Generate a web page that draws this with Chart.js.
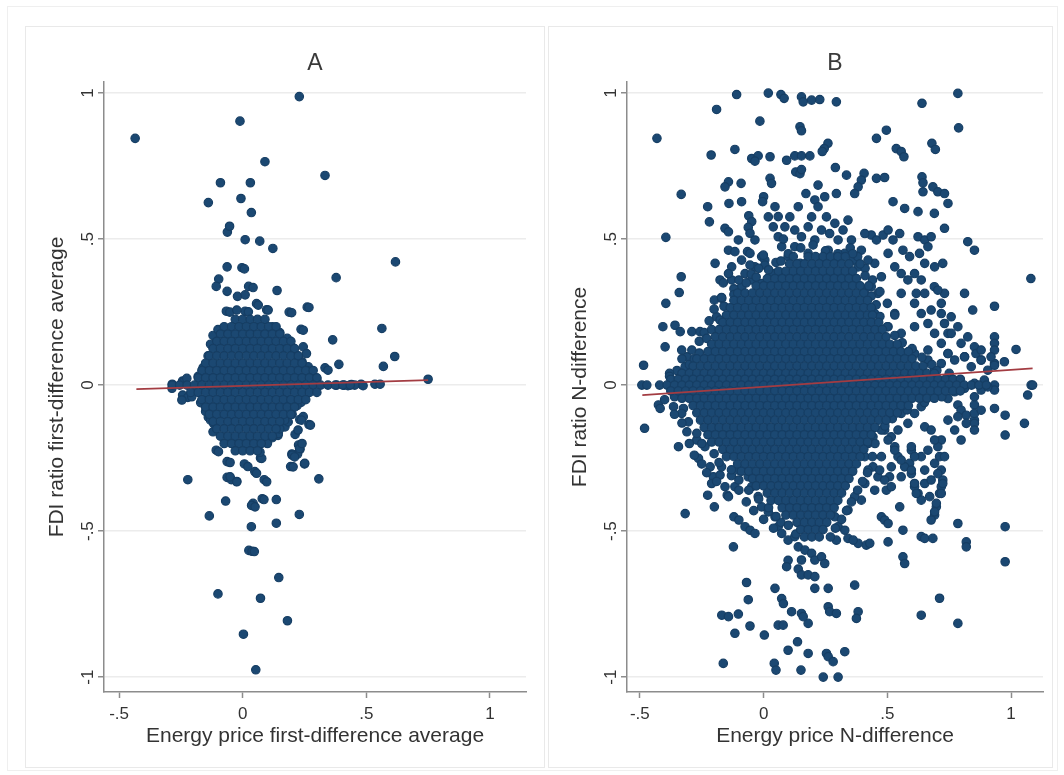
<!DOCTYPE html>
<html lang="en">
<head>
<meta charset="UTF-8">
<title>FDI ratio vs energy price</title>
<script src="https://cdn.jsdelivr.net/npm/chart.js@4.4.1/dist/chart.umd.min.js"></script>
<style>
* { margin: 0; padding: 0; box-sizing: border-box; }
body {
    width: 1064px;
    height: 775px;
    background: #fff;
    position: relative;
    overflow: hidden;
    font-family: "Liberation Sans", Arial, sans-serif;
}
.frame {
    position: absolute;
    left: 7px; top: 6px;
    width: 1051px; height: 765px;
    border: 1px solid #efefef;
}
.panel {
    position: absolute;
    top: 26px;
    height: 742px;
    border: 1px solid #e9e9e9;
}
#panelA { left: 25px; width: 520px; }
#panelB { left: 548px; width: 505px; }
canvas { position: absolute; left: 0; top: 0; }
</style>
</head>
<body>
<div class="frame"></div>
<div class="panel" id="panelA"><canvas id="chartA" width="520" height="741"></canvas></div>
<div class="panel" id="panelB"><canvas id="chartB" width="505" height="741"></canvas></div>
<script>
// axis ticks (Stata style labels)
const xTicks = [-0.5, 0, 0.5, 1];
const xTickLabels = ['-.5', '0', '.5', '1'];
const yTicks = [-1, -0.5, 0, 0.5, 1];
const yTickLabels = ['-1', '-.5', '0', '.5', '1'];

// Panel A: first-difference averages
const scatterA = [
    [-0.435,0.845],[0.229,0.988],[-0.011,0.904],[0.09,0.765],[0.333,0.718],[-0.09,0.693],[0.031,0.693],
    [-0.139,0.625],[-0.007,0.639],[0.035,0.591],[-0.062,0.524],[-0.053,0.544],[0.01,0.498],[0.069,0.493],
    [0.122,0.468],[0.618,0.422],[-0.063,0.405],[-0.003,0.402],[0.007,0.398],[0.378,0.368],[-0.097,0.363],
    [-0.107,0.338],[-0.063,0.321],[-0.021,0.304],[0.024,0.338],[0.042,0.334],[0.139,0.324],[0.01,0.309],
    [0.056,0.279],[-0.066,0.253],[-0.052,0.25],[0.01,0.253],[0.188,0.25],[0.261,0.267],[0.097,0.258],
    [0.563,0.194],[0.236,0.191],[0.364,0.155],[0.615,0.098],[0.569,0.064],[0.389,0.071],[0.333,0.059],
    [0.75,0.02],[0.479,0.003],[0.535,0.003],[0.556,0.003],[0.38,0.0],[0.41,0.0],[0.44,0.002],
    [-0.285,0.003],[-0.243,0.014],[-0.243,-0.034],[-0.222,-0.042],[-0.222,-0.324],[-0.139,-0.11],
    [-0.107,-0.223],[-0.063,-0.262],[-0.063,-0.316],[-0.046,-0.324],[-0.024,-0.33],[-0.069,-0.397],
    [0.007,-0.27],[0.021,-0.279],[0.049,-0.296],[0.087,-0.324],[0.072,-0.25],[0.093,-0.191],[0.194,-0.279],
    [0.25,-0.27],[0.308,-0.321],[0.268,-0.135],[0.226,-0.205],[0.232,-0.22],[0.222,-0.236],[0.199,-0.236],
    [0.231,-0.118],[0.236,-0.059],[0.212,-0.169],[0.143,-0.172],[0.167,-0.127],[0.136,-0.392],[0.079,-0.389],
    [0.042,-0.405],[0.036,-0.412],[-0.135,-0.448],[0.229,-0.443],[0.136,-0.473],[0.035,-0.485],
    [0.025,-0.566],[0.038,-0.569],[0.047,-0.57],[0.146,-0.659],[-0.1,-0.715],[0.072,-0.73],[0.181,-0.807],
    [0.003,-0.853],[0.053,-0.975],
    [-0.098,-0.228],[-0.051,-0.265],[-0.051,-0.314],[-0.024,-0.331],[0.05,-0.417],[0.086,-0.392],
    [0.097,-0.331],[0.056,-0.302],[0.077,-0.251],[0.204,-0.28],[0.251,-0.268],[0.2,-0.24],[0.21,-0.246],
    [0.23,-0.217],[0.24,-0.2],[0.171,-0.143],[0.184,-0.126],[0.144,-0.166],[0.224,-0.154],[0.245,-0.108],
    [0.238,-0.12],[0.274,-0.137],[-0.132,-0.108],[-0.118,-0.131],[0.345,0.051],[0.487,-0.002],[0.453,0.0],
    [0.426,-0.002],[0.245,0.188],[0.198,0.248],[0.268,0.266],[0.245,0.131],[0.258,0.108],[0.265,0.063],
    [-0.239,0.011],[-0.226,0.023],[-0.246,-0.051],[-0.206,-0.04],[-0.286,-0.011],[-0.024,0.257],
    [0.023,0.251],[0.063,0.274],[0.103,0.257],
    [0.12,0.2],[0.15,0.18],[0.18,0.16],[0.2,0.13],[0.22,0.1],[0.24,0.08],[0.26,0.05],[0.28,0.03],[0.3,0.02],
    [0.18,-0.05],[0.22,-0.07],[0.2,-0.1],[0.17,-0.12],[0.15,-0.15],[0.12,-0.18],[0.1,-0.2],[0.07,-0.23],
    [-0.12,-0.16],[-0.13,-0.12],[-0.15,-0.09],[-0.17,-0.06],[-0.18,0.03],[-0.16,0.06],[-0.14,0.1],
    [-0.13,0.14],[-0.12,0.17],[-0.1,0.19]
];
// dense centre of panel A, one row per y level
const coreA = [
    [0.225, [-0.03,0,0.03,0.06,0.09]],
    [0.20, [-0.075,-0.045,-0.015,0.015,0.045,0.075,0.105,0.135]],
    [0.175, [-0.09,-0.06,-0.03,0,0.03,0.06,0.09,0.12,0.15]],
    [0.15, [-0.105,-0.075,-0.045,-0.015,0.015,0.045,0.075,0.105,0.135,0.165,0.195]],
    [0.125, [-0.12,-0.09,-0.06,-0.03,0,0.03,0.06,0.09,0.12,0.15,0.18,0.21]],
    [0.10, [-0.135,-0.105,-0.075,-0.045,-0.015,0.015,0.045,0.075,0.105,0.135,0.165,0.195,0.225]],
    [0.075, [-0.15,-0.12,-0.09,-0.06,-0.03,0,0.03,0.06,0.09,0.12,0.15,0.18,0.21,0.24]],
    [0.05, [-0.165,-0.135,-0.105,-0.075,-0.045,-0.015,0.015,0.045,0.075,0.105,0.135,0.165,0.195,0.225,0.255,0.285]],
    [0.025, [-0.18,-0.15,-0.12,-0.09,-0.06,-0.03,0,0.03,0.06,0.09,0.12,0.15,0.18,0.21,0.24,0.27,0.30]],
    [0.0, [-0.285,-0.255,-0.225,-0.195,-0.165,-0.135,-0.105,-0.075,-0.045,-0.015,0.015,0.045,0.075,0.105,0.135,0.165,0.195,0.225,0.255,0.285,0.315,0.345,0.375,0.405,0.435]],
    [-0.025, [-0.21,-0.18,-0.15,-0.12,-0.09,-0.06,-0.03,0,0.03,0.06,0.09,0.12,0.15,0.18,0.21,0.24,0.27,0.30]],
    [-0.05, [-0.165,-0.135,-0.105,-0.075,-0.045,-0.015,0.015,0.045,0.075,0.105,0.135,0.165,0.195,0.225,0.255]],
    [-0.075, [-0.15,-0.12,-0.09,-0.06,-0.03,0,0.03,0.06,0.09,0.12,0.15,0.18,0.21]],
    [-0.10, [-0.135,-0.105,-0.075,-0.045,-0.015,0.015,0.045,0.075,0.105,0.135,0.165,0.195]],
    [-0.125, [-0.12,-0.09,-0.06,-0.03,0,0.03,0.06,0.09,0.12,0.15]],
    [-0.15, [-0.105,-0.075,-0.045,-0.015,0.015,0.045,0.075,0.105,0.135]],
    [-0.175, [-0.09,-0.06,-0.03,0,0.03,0.06,0.09,0.12]],
    [-0.20, [-0.075,-0.045,-0.015,0.015,0.045,0.075]],
    [-0.225, [-0.03,0,0.03,0.06]]
];
const fitA = [[-0.43, -0.014], [0.75, 0.017]];

// Panel B: N-differences
const scatterB = [
    [-0.109,0.995],[0.019,1.0],[0.07,0.995],[0.083,0.982],[0.153,0.987],[0.16,0.97],[0.194,0.976],
    [0.227,0.978],[0.294,0.97],[0.785,0.999],[-0.19,0.944],[-0.015,0.904],[0.64,0.965],[0.788,0.881],
    [-0.431,0.845],[0.147,0.885],[0.153,0.871],[0.456,0.845],[0.496,0.873],[0.26,0.828],[0.245,0.81],
    [0.237,0.8],[-0.116,0.807],[-0.212,0.788],[-0.048,0.776],[-0.022,0.785],[0.026,0.782],[-0.035,0.767],
    [0.093,0.77],[0.126,0.785],[0.153,0.785],[0.187,0.785],[0.536,0.81],[0.556,0.8],[0.567,0.782],
    [0.68,0.828],[0.694,0.807],[0.13,0.73],[0.147,0.724],[0.153,0.738],[0.29,0.745],[0.335,0.719],
    [0.406,0.725],[0.395,0.702],[0.382,0.679],[0.368,0.656],[0.456,0.708],[0.489,0.711],[0.64,0.713],
    [0.644,0.693],[0.684,0.679],[0.704,0.662],[0.731,0.656],[0.745,0.622],[0.644,0.662],[-0.142,0.696],
    [-0.156,0.679],[-0.091,0.691],[0.026,0.708],[0.032,0.691],[0.22,0.685],[0.171,0.656],[0.247,0.645],
    [0.294,0.656],[-0.333,0.653],[-0.226,0.611],[-0.14,0.622],[-0.089,0.628],[0.0,0.645],[-0.004,0.628],
    [0.046,0.611],[0.059,0.577],[0.14,0.611],[0.207,0.634],[0.22,0.611],[0.523,0.628],[0.57,0.605],
    [0.624,0.594],[0.69,0.588],[0.731,0.537],[-0.219,0.559],[-0.156,0.537],[-0.142,0.525],[-0.06,0.58],
    [-0.048,0.56],[-0.062,0.54],[-0.055,0.52],[-0.395,0.506],[-0.142,0.462],[-0.116,0.457],[-0.065,0.457],
    [-0.008,0.44],[-0.196,0.417],[0.825,0.491],[0.852,0.462],[1.08,0.365],[-0.333,0.371],[-0.341,0.317],
    [-0.395,0.28],[-0.176,0.36],[-0.163,0.35],[-0.199,0.291],[-0.169,0.297],[-0.407,0.2],[-0.358,0.205],
    [-0.337,0.183],[-0.29,0.183],[-0.257,0.183],[-0.398,0.131],[-0.485,0.068],[0.812,0.314],[0.845,0.257],
    [0.933,0.27],[0.933,0.165],[0.933,0.143],[1.02,0.122],[0.973,0.08],[0.933,0.074],[0.758,0.234],
    [0.785,0.2],[0.825,0.165],[0.852,0.131],[0.858,0.108],[0.731,0.211],[0.745,0.177],[0.69,0.337],
    [0.731,0.314],[0.718,0.28],
    [0.435,0.514],[0.456,0.497],[0.483,0.514],[0.503,0.531],[0.523,0.497],[0.55,0.519],[0.563,0.462],
    [0.59,0.44],[0.624,0.508],[0.651,0.497],[0.664,0.474],[0.677,0.508],[0.63,0.451],[0.651,0.417],
    [0.691,0.405],[0.724,0.417],[0.503,0.451],[0.53,0.405],[0.556,0.382],[0.583,0.36],[0.61,0.382],
    [0.637,0.36],[0.617,0.314],[0.651,0.314],[0.704,0.325],[0.556,0.314],[0.476,0.371],[0.449,0.417],
    [0.422,0.428],[0.435,0.337],[0.462,0.314],[0.409,0.325],
    [0.019,0.576],[0.039,0.542],[0.059,0.508],[0.086,0.542],[0.106,0.576],[0.126,0.531],[0.073,0.474],
    [0.099,0.44],[0.126,0.474],[0.153,0.508],[0.18,0.542],[0.194,0.576],[0.207,0.497],[0.234,0.531],
    [0.254,0.576],[0.267,0.519],[0.288,0.554],[0.301,0.497],[0.321,0.531],[0.341,0.565],[0.355,0.497],
    [0.362,0.428],[0.328,0.451],[0.288,0.428],[0.261,0.462],[0.234,0.428],[0.207,0.405],[0.18,0.451],
    [0.147,0.417],[-0.035,0.497],[-0.055,0.451],[-0.089,0.428],[-0.102,0.497],[-0.129,0.405],
    [-0.075,0.382],[-0.035,0.405],[0.005,0.428],[0.039,0.382],[0.073,0.371],[0.126,0.371],[0.167,0.36],
    [0.207,0.36],[0.247,0.371],[0.288,0.382],[0.315,0.365],[0.355,0.371],[0.382,0.405],[0.395,0.462],
    [0.409,0.519],[-0.129,0.36],[-0.089,0.337],[-0.048,0.36],[-0.008,0.348],
    [0.61,0.28],[0.637,0.245],[0.664,0.211],[0.691,0.177],[0.718,0.143],[0.745,0.108],[0.677,0.257],
    [0.718,0.245],[0.758,0.177],[0.798,0.143],[0.812,0.097],[0.879,0.12],[0.61,0.2],[0.556,0.177],
    [0.53,0.245],[0.503,0.2],[0.449,0.245],[0.476,0.131],[0.543,0.108],[0.61,0.108],[0.664,0.086],
    [0.879,0.086],[0.906,0.051],
    [-0.19,0.234],[-0.176,0.223],[-0.331,0.12],[-0.31,0.097],[-0.317,0.063],[-0.425,-0.068],
    [-0.418,-0.08],[-0.364,-0.074],[-0.324,-0.08],[-0.055,0.411],[0.005,0.411],[-0.001,0.445],[-0.142,0.382],
    [-0.492,0.0],[-0.472,0.0],[-0.481,-0.148],[-0.344,-0.211],[-0.317,-0.44],[-0.226,-0.377],
    [-0.199,-0.417],[-0.147,-0.377],[-0.122,-0.554],[-0.12,-0.451],[-0.1,-0.462],[-0.075,-0.485],
    [-0.055,-0.497],[-0.035,-0.508],[-0.069,-0.676],[-0.062,-0.735],[-0.102,-0.784],[-0.055,-0.825],
    [-0.169,-0.788],[-0.142,-0.793],[-0.116,-0.85],[-0.163,-0.953],[0.003,-0.856],[0.046,-0.696],
    [0.073,-0.731],[0.08,-0.748],[0.059,-0.822],[0.079,-0.822],[0.113,-0.776],[0.099,-0.908],
    [0.137,-0.879],[0.043,-0.953],[0.05,-0.976],[0.151,-0.976],[0.18,-0.919],[0.18,-0.816],[0.153,-0.782],
    [0.16,-0.793],[0.099,-0.6],[0.093,-0.622],[0.14,-0.63],[0.153,-0.65],[0.18,-0.65],[0.207,-0.656],
    [0.207,-0.696],[0.261,-0.696],[0.261,-0.759],[0.267,-0.776],[0.294,-0.782],[0.254,-0.919],
    [0.261,-0.93],[0.281,-0.947],[0.328,-0.913],[0.241,-1.0],[0.301,-1.0],[0.368,-0.685],[0.382,-0.776],
    [0.375,-0.799],[0.395,-0.394],[0.415,-0.548],[0.429,-0.542],[0.382,-0.542],[0.341,-0.525],
    [0.362,-0.531],[0.294,-0.531],[0.476,-0.451],[0.489,-0.462],[0.503,-0.474],[0.503,-0.537],
    [0.563,-0.497],[0.55,-0.417],[0.563,-0.588],[0.57,-0.611],[0.637,-0.519],[0.651,-0.525],
    [0.684,-0.525],[0.637,-0.788],[0.711,-0.73],[0.785,-0.816],[0.785,-0.474],[0.819,-0.537],
    [0.819,-0.554],[0.976,-0.485],[0.976,-0.605],[0.976,-0.171],[0.976,-0.103],[0.933,-0.08],
    [0.933,0.068],[1.054,-0.131],[1.067,-0.034],[1.081,0.0],[1.087,0.0],[0.933,0.0],[0.933,-0.017],
    [0.852,-0.04],[0.852,-0.068],[0.852,-0.12],[0.852,-0.131],[0.785,-0.068],[0.798,-0.086],
    [0.819,-0.103],[0.745,-0.046],
    [0.718,-0.188],[0.704,-0.211],[0.711,-0.245],[0.731,-0.245],[0.718,-0.291],[0.724,-0.325],
    [0.718,-0.348],[0.711,-0.371],[0.698,-0.417],[0.691,-0.445],[0.677,-0.462],[0.637,-0.245],
    [0.651,-0.337],[0.624,-0.371],[0.637,-0.394],[0.671,-0.382],[0.677,-0.325],[0.651,-0.291],
    [0.597,-0.223],[0.59,-0.268],[0.597,-0.303],[0.61,-0.348],[0.556,-0.314],[0.57,-0.28],[0.543,-0.245],
    [0.53,-0.211],[0.516,-0.177],[0.489,-0.154],[0.516,-0.28],[0.509,-0.314],[0.496,-0.36],[0.449,-0.36],
    [0.462,-0.314],[0.442,-0.28],
    [-0.331,-0.097],[-0.304,-0.126],[-0.27,-0.188],[-0.263,-0.251],[-0.237,-0.211],[-0.216,-0.28],
    [-0.203,-0.314],[-0.21,-0.337],[-0.176,-0.308],[-0.156,-0.348],[-0.142,-0.382],[-0.116,-0.348],
    [-0.102,-0.291],[-0.062,-0.314],[-0.048,-0.348],[-0.022,-0.382],[-0.008,-0.417],[0.019,-0.434],
    [0.046,-0.451],[0.059,-0.485],[0.073,-0.508],[0.099,-0.531],[0.126,-0.519],[0.14,-0.554],
    [0.167,-0.565],[0.194,-0.576],[0.153,-0.599],[0.207,-0.599],[0.234,-0.588],[0.247,-0.611],
    [0.301,-0.485],[0.328,-0.497],[0.288,-0.451],[0.341,-0.428],[0.368,-0.382],[0.409,-0.337],
    [0.422,-0.291],[0.409,-0.245],[0.422,-0.2],[0.442,-0.177],[0.476,-0.154],[0.503,-0.188],[0.53,-0.223],
    [0.556,-0.257],[0.476,-0.245],[0.469,-0.291],[0.489,-0.325],[0.516,-0.348],[0.597,-0.211],
    [0.61,-0.245],[0.597,-0.291],[0.61,-0.337],[0.617,-0.371],[0.651,-0.143],[0.677,-0.154],
    [0.691,-0.188],[0.664,-0.223],[0.691,-0.268],[0.704,-0.303],[0.724,-0.337],[0.718,-0.371],
    [0.698,-0.405],[0.691,-0.434],[0.745,-0.12],[0.772,-0.154],[0.798,-0.188],[0.785,-0.108],
    [0.819,-0.131],[0.852,-0.097],[0.852,-0.154],[0.879,-0.086],[0.556,-0.097],[0.583,-0.131],
    [0.543,-0.154],[0.61,-0.097],[0.637,-0.074],
    [0.879,-0.017],[0.906,-0.006],[0.852,0.006],[0.812,-0.011],[0.745,-0.006],[0.677,-0.017],[0.61,0.0],
    [0.637,-0.023],[0.691,0.006],[0.772,-0.023],[0.892,0.017],[0.933,0.12],[0.919,0.097],[0.879,0.086],
    [0.839,0.063],[0.812,0.097],[0.772,0.086],[0.745,0.108],[0.718,0.074],[0.691,0.051],[0.664,0.12],
    [-0.4,-0.05],[-0.36,-0.1],[-0.33,-0.13],[-0.31,-0.16],[-0.3,-0.2],[-0.28,-0.24],[-0.25,-0.27],
    [-0.23,-0.3],[-0.19,-0.33],[-0.17,-0.28],[-0.13,-0.31],[-0.1,-0.36],[-0.07,-0.4],[-0.04,-0.43],
    [0.0,-0.46],[0.04,-0.49],[0.07,-0.47],
    [-0.3,0.07],[-0.35,0.05],[-0.38,0.04],[-0.33,0.09],[-0.29,0.12],[-0.26,0.15],[-0.24,0.18],
    [-0.22,0.22],[-0.2,0.26],[-0.17,0.3],[-0.12,0.33],[-0.1,0.36],[-0.05,0.38],[-0.02,0.4],[0.05,0.42],
    [0.1,0.45],[0.15,0.47],[0.08,0.5],[0.2,0.48],[0.25,0.46],[0.3,0.45],[0.35,0.47],[0.38,0.44],
    [0.41,0.4],[0.44,0.36],[0.47,0.32],[0.5,0.28],[0.53,0.24],
    // ragged fringe around the dense centre
    [-0.21,0.19],[-0.23,0.16],[-0.26,0.11],[-0.28,0.09],[-0.16,0.27],[-0.12,0.31],[-0.07,0.35],
    [-0.03,0.37],[0.02,0.395],[0.07,0.425],[0.12,0.44],[-0.27,-0.165],[-0.25,-0.2],[-0.2,-0.235],
    [-0.18,-0.265],[-0.13,-0.29],[-0.1,-0.325],[-0.06,-0.36],[-0.02,-0.39],[0.02,-0.42],[0.05,-0.45],
    [0.1,-0.48],[0.13,-0.51],[0.45,-0.2],[0.44,-0.245],[0.42,-0.3],[0.4,-0.33],[0.38,-0.36],
    [0.355,-0.4],[0.335,-0.43],[0.315,-0.46],[0.29,-0.49],[0.27,-0.52],[0.47,0.235],[0.5,0.2],
    [0.53,0.17],[0.56,0.145],[0.6,0.125],[0.64,0.095],[0.68,0.07],[0.455,0.275],[0.435,0.305],
    [0.425,0.34],[0.41,0.375],[0.39,0.415],[0.36,0.45],[0.58,-0.085],[0.52,-0.115],[0.49,-0.14],
    [0.56,-0.07],[0.65,-0.06],[0.72,-0.04],[0.75,0.04],[0.7,0.05],[-0.36,-0.04],[-0.38,0.03]
];
// dense centre of panel B, one row per y level
const coreB = [
    [0.44, [0.18,0.21,0.24,0.27,0.30,0.33]],
    [0.415, [0.105,0.135,0.165,0.195,0.225,0.255,0.285,0.315,0.345]],
    [0.39, [0.06,0.09,0.12,0.15,0.18,0.21,0.24,0.27,0.30,0.33,0.36]],
    [0.365, [0.015,0.045,0.075,0.105,0.135,0.165,0.195,0.225,0.255,0.285,0.315,0.345,0.375]],
    [0.34, [-0.03,0,0.03,0.06,0.09,0.12,0.15,0.18,0.21,0.24,0.27,0.30,0.33,0.36,0.39]],
    [0.315, [-0.105,-0.075,-0.045,-0.015,0.015,0.045,0.075,0.105,0.135,0.165,0.195,0.225,0.255,0.285,0.315,0.345,0.375,0.405]],
    [0.29, [-0.12,-0.09,-0.06,-0.03,0,0.03,0.06,0.09,0.12,0.15,0.18,0.21,0.24,0.27,0.30,0.33,0.36,0.39,0.42]],
    [0.265, [-0.135,-0.105,-0.075,-0.045,-0.015,0.015,0.045,0.075,0.105,0.135,0.165,0.195,0.225,0.255,0.285,0.315,0.345,0.375,0.405,0.435]],
    [0.24, [-0.15,-0.12,-0.09,-0.06,-0.03,0,0.03,0.06,0.09,0.12,0.15,0.18,0.21,0.24,0.27,0.30,0.33,0.36,0.39,0.42,0.44]],
    [0.215, [-0.165,-0.135,-0.105,-0.075,-0.045,-0.015,0.015,0.045,0.075,0.105,0.135,0.165,0.195,0.225,0.255,0.285,0.315,0.345,0.375,0.405,0.435,0.465]],
    [0.19, [-0.18,-0.15,-0.12,-0.09,-0.06,-0.03,0,0.03,0.06,0.09,0.12,0.15,0.18,0.21,0.24,0.27,0.30,0.33,0.36,0.39,0.42,0.45,0.48]],
    [0.165, [-0.195,-0.165,-0.135,-0.105,-0.075,-0.045,-0.015,0.015,0.045,0.075,0.105,0.135,0.165,0.195,0.225,0.255,0.285,0.315,0.345,0.375,0.405,0.435,0.465,0.495]],
    [0.14, [-0.21,-0.18,-0.15,-0.12,-0.09,-0.06,-0.03,0,0.03,0.06,0.09,0.12,0.15,0.18,0.21,0.24,0.27,0.30,0.33,0.36,0.39,0.42,0.45,0.48,0.51,0.54]],
    [0.115, [-0.225,-0.195,-0.165,-0.135,-0.105,-0.075,-0.045,-0.015,0.015,0.045,0.075,0.105,0.135,0.165,0.195,0.225,0.255,0.285,0.315,0.345,0.375,0.405,0.435,0.465,0.495,0.525,0.555,0.585]],
    [0.09, [-0.27,-0.24,-0.21,-0.18,-0.15,-0.12,-0.09,-0.06,-0.03,0,0.03,0.06,0.09,0.12,0.15,0.18,0.21,0.24,0.27,0.30,0.33,0.36,0.39,0.42,0.45,0.48,0.51,0.54,0.57,0.60]],
    [0.065, [-0.285,-0.255,-0.225,-0.195,-0.165,-0.135,-0.105,-0.075,-0.045,-0.015,0.015,0.045,0.075,0.105,0.135,0.165,0.195,0.225,0.255,0.285,0.315,0.345,0.375,0.405,0.435,0.465,0.495,0.525,0.555,0.585,0.615,0.645]],
    [0.04, [-0.33,-0.30,-0.27,-0.24,-0.21,-0.18,-0.15,-0.12,-0.09,-0.06,-0.03,0,0.03,0.06,0.09,0.12,0.15,0.18,0.21,0.24,0.27,0.30,0.33,0.36,0.39,0.42,0.45,0.48,0.51,0.54,0.57,0.60,0.63,0.66,0.69]],
    [0.02, [-0.375,-0.345,-0.315,-0.285,-0.255,-0.225,-0.195,-0.165,-0.135,-0.105,-0.075,-0.045,-0.015,0.015,0.045,0.075,0.105,0.135,0.165,0.195,0.225,0.255,0.285,0.315,0.345,0.375,0.405,0.435,0.465,0.495,0.525,0.555,0.585,0.615,0.645,0.675,0.705,0.735,0.765,0.795]],
    [0.0, [-0.42,-0.39,-0.36,-0.33,-0.30,-0.27,-0.24,-0.21,-0.18,-0.15,-0.12,-0.09,-0.06,-0.03,0,0.03,0.06,0.09,0.12,0.15,0.18,0.21,0.24,0.27,0.30,0.33,0.36,0.39,0.42,0.45,0.48,0.51,0.54,0.57,0.60,0.63,0.66,0.69,0.72,0.75,0.78,0.81,0.84,0.87,0.90]],
    [-0.02, [-0.375,-0.345,-0.315,-0.285,-0.255,-0.225,-0.195,-0.165,-0.135,-0.105,-0.075,-0.045,-0.015,0.015,0.045,0.075,0.105,0.135,0.165,0.195,0.225,0.255,0.285,0.315,0.345,0.375,0.405,0.435,0.465,0.495,0.525,0.555,0.585,0.615,0.645,0.675,0.705,0.735,0.765,0.795]],
    [-0.045, [-0.33,-0.30,-0.27,-0.24,-0.21,-0.18,-0.15,-0.12,-0.09,-0.06,-0.03,0,0.03,0.06,0.09,0.12,0.15,0.18,0.21,0.24,0.27,0.30,0.33,0.36,0.39,0.42,0.45,0.48,0.51,0.54,0.57,0.60,0.63,0.66,0.69]],
    [-0.07, [-0.285,-0.255,-0.225,-0.195,-0.165,-0.135,-0.105,-0.075,-0.045,-0.015,0.015,0.045,0.075,0.105,0.135,0.165,0.195,0.225,0.255,0.285,0.315,0.345,0.375,0.405,0.435,0.465,0.495,0.525,0.555,0.585]],
    [-0.095, [-0.27,-0.24,-0.21,-0.18,-0.15,-0.12,-0.09,-0.06,-0.03,0,0.03,0.06,0.09,0.12,0.15,0.18,0.21,0.24,0.27,0.30,0.33,0.36,0.39,0.42,0.45,0.48,0.51,0.54]],
    [-0.12, [-0.255,-0.225,-0.195,-0.165,-0.135,-0.105,-0.075,-0.045,-0.015,0.015,0.045,0.075,0.105,0.135,0.165,0.195,0.225,0.255,0.285,0.315,0.345,0.375,0.405,0.435,0.465,0.495]],
    [-0.145, [-0.24,-0.21,-0.18,-0.15,-0.12,-0.09,-0.06,-0.03,0,0.03,0.06,0.09,0.12,0.15,0.18,0.21,0.24,0.27,0.30,0.33,0.36,0.39,0.42,0.45]],
    [-0.17, [-0.225,-0.195,-0.165,-0.135,-0.105,-0.075,-0.045,-0.015,0.015,0.045,0.075,0.105,0.135,0.165,0.195,0.225,0.255,0.285,0.315,0.345,0.375,0.405,0.435]],
    [-0.195, [-0.21,-0.18,-0.15,-0.12,-0.09,-0.06,-0.03,0,0.03,0.06,0.09,0.12,0.15,0.18,0.21,0.24,0.27,0.30,0.33,0.36,0.39,0.42]],
    [-0.22, [-0.165,-0.135,-0.105,-0.075,-0.045,-0.015,0.015,0.045,0.075,0.105,0.135,0.165,0.195,0.225,0.255,0.285,0.315,0.345,0.375,0.405]],
    [-0.245, [-0.15,-0.12,-0.09,-0.06,-0.03,0,0.03,0.06,0.09,0.12,0.15,0.18,0.21,0.24,0.27,0.30,0.33,0.36,0.39]],
    [-0.27, [-0.105,-0.075,-0.045,-0.015,0.015,0.045,0.075,0.105,0.135,0.165,0.195,0.225,0.255,0.285,0.315,0.345,0.375]],
    [-0.295, [-0.09,-0.06,-0.03,0,0.03,0.06,0.09,0.12,0.15,0.18,0.21,0.24,0.27,0.30,0.33,0.36]],
    [-0.32, [-0.045,-0.015,0.015,0.045,0.075,0.105,0.135,0.165,0.195,0.225,0.255,0.285,0.315,0.345]],
    [-0.345, [-0.03,0,0.03,0.06,0.09,0.12,0.15,0.18,0.21,0.24,0.27,0.30,0.33]],
    [-0.37, [0.015,0.045,0.075,0.105,0.135,0.165,0.195,0.225,0.255,0.285,0.315]],
    [-0.395, [0.03,0.06,0.09,0.12,0.15,0.18,0.21,0.24,0.27,0.30]],
    [-0.42, [0.075,0.105,0.135,0.165,0.195,0.225,0.255,0.285]],
    [-0.445, [0.09,0.12,0.15,0.18,0.21,0.24,0.27]],
    [-0.47, [0.135,0.165,0.195,0.225,0.255]],
    [-0.495, [0.15,0.18,0.21,0.24]],
    [-0.52, [0.165,0.195,0.225]]
];
const fitB = [[-0.49, -0.034], [1.087, 0.057]];

const FONT = '"Liberation Sans", Arial, sans-serif';
const TEXT = '#333333';
const AXIS = '#8c8c8c';
Chart.defaults.font.family = FONT;
Chart.defaults.color = TEXT;

function toPoints(scatter, core) {
    const out = scatter.map(([x, y]) => ({x, y}));
    core.forEach(([y, xs]) => xs.forEach(x => out.push({x, y})));
    return out;
}

// draws the panel letter centred over the plot region
const panelTitle = {
    id: 'panelTitle',
    afterDraw(chart, args, opts) {
        const {ctx, chartArea} = chart;
        ctx.save();
        ctx.font = '23px ' + FONT;
        ctx.fillStyle = '#3a3a3a';
        ctx.textAlign = 'center';
        ctx.textBaseline = 'middle';
        ctx.fillText(opts.text, (chartArea.left + chartArea.right) / 2, 37);
        ctx.restore();
    }
};

function drawPanel(id, letter, scatter, core, fit, xTitle, yTitle, xMin, xMax, padRight) {
    new Chart(document.getElementById(id), {
        type: 'scatter',
        data: {
            datasets: [
                {
                    type: 'line',
                    data: fit.map(([x, y]) => ({x, y})),
                    borderColor: '#a33c42',
                    borderWidth: 1.8,
                    pointRadius: 0,
                    fill: false,
                    order: 0
                },
                {
                    data: toPoints(scatter, core),
                    backgroundColor: '#1b4872',
                    borderColor: '#163e64',
                    borderWidth: 1.2,
                    pointRadius: 4.2,
                    order: 1
                }
            ]
        },
        options: {
            responsive: false,
            animation: false,
            events: [],
            layout: { padding: { top: 55, right: padRight, bottom: 0, left: 0 } },
            plugins: {
                legend: { display: false },
                tooltip: { enabled: false },
                panelTitle: { text: letter }
            },
            scales: {
                x: {
                    type: 'linear',
                    min: xMin,
                    max: xMax,
                    afterBuildTicks: s => { s.ticks = xTicks.map(v => ({value: v})); },
                    afterFit: s => { s.height = 76; },
                    grid: { drawOnChartArea: false, tickLength: 6, tickColor: AXIS, tickWidth: 1.5 },
                    border: { color: AXIS, width: 1.5 },
                    ticks: {
                        callback: (v, i) => xTickLabels[i],
                        font: { size: 17 },
                        color: TEXT,
                        padding: 6,
                        minRotation: 0,
                        maxRotation: 0
                    },
                    title: {
                        display: true,
                        text: xTitle,
                        font: { size: 21 },
                        color: TEXT,
                        padding: { top: 0, bottom: 19 }
                    }
                },
                y: {
                    type: 'linear',
                    min: -1.051,
                    max: 1.038,
                    afterBuildTicks: s => { s.ticks = yTicks.map(v => ({value: v})); },
                    afterFit: s => { s.width = 78; },
                    grid: { color: '#ececec', lineWidth: 1.5, tickLength: 6, tickColor: AXIS, tickWidth: 1.5 },
                    border: { color: AXIS, width: 1.5 },
                    ticks: {
                        callback: (v, i) => yTickLabels[i],
                        font: { size: 17 },
                        color: TEXT,
                        minRotation: 90,
                        maxRotation: 90,
                        crossAlign: 'center',
                        padding: 0
                    },
                    title: {
                        display: true,
                        text: yTitle,
                        font: { size: 21 },
                        color: TEXT,
                        padding: { top: 19, bottom: 0 }
                    }
                }
            }
        },
        plugins: [panelTitle]
    });
}

drawPanel('chartA', 'A', scatterA, coreA, fitA,
    'Energy price first-difference average', 'FDI ratio first-difference average', -0.561, 1.146, 20);
drawPanel('chartB', 'B', scatterB, coreB, fitB,
    'Energy price N-difference', 'FDI ratio N-difference', -0.552, 1.129, 11);
</script>
</body>
</html>
